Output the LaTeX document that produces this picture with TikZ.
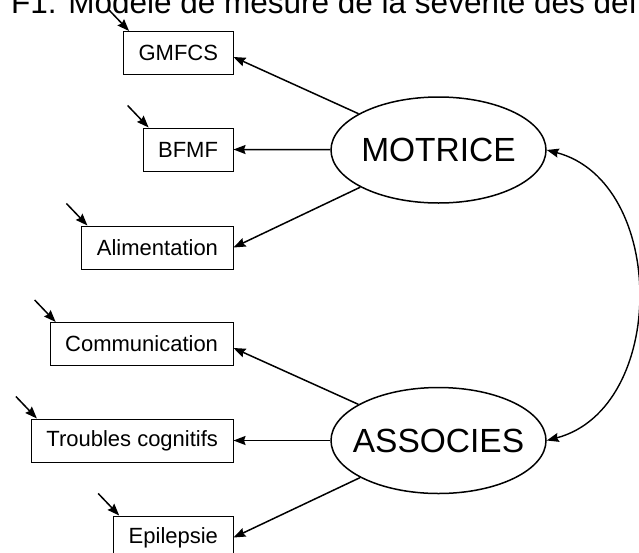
\documentclass[tikz,border=0pt]{standalone}
\usepackage{fontspec}
\setmainfont{Liberation Sans}
\usetikzlibrary{arrows.meta,calc,shapes.geometric}
\begin{document}
\begin{tikzpicture}[x=1pt,y=-1pt,
  obs/.style={draw, line width=1pt, inner xsep=15pt, inner ysep=0pt, minimum height=43pt, anchor=east, font=\fontsize{22}{26}\selectfont},
  lat/.style={draw, ellipse, line width=1.5pt, minimum width=215pt, minimum height=106pt, inner sep=0pt, font=\fontsize{33.5}{40}\selectfont},
  tip/.tip={Stealth[length=12pt,width=9pt,inset=1.5pt]},
  arr/.style={line width=1.5pt, -tip},
  dbl/.style={line width=1.4pt, tip-tip}
]
\useasboundingbox (0,0) rectangle (639,552);
\clip (0,0) rectangle (639,552);
\node[anchor=base west, inner sep=0pt, font=\fontsize{31.5}{36}\selectfont] (title) at (11,13) {F1. Modèle de mesure de la sévérité des déf};

\node[lat] (M) at (438.5,150) {\makebox[0pt]{MOTRICE}};
\node[lat] (A) at (438.5,440.5) {\makebox[0pt]{ASSOCIES}};

\node[obs] (G) at (233.5,53) {GMFCS};
\node[obs] (B) at (233.5,149.5) {BFMF};
\node[obs] (Al) at (233.5,247.5) {Alimentation};
\node[obs] (C) at (233.5,344) {Communication};
\node[obs] (T) at (233.5,440.5) {Troubles cognitifs};
\node[obs] (E) at (233.5,537.5) {Epilepsie};

\foreach \n in {G,B,Al,C,T,E}{
  \coordinate (e\n) at ($(\n.north west)+(-15,-22)$);
  \draw[arr] (e\n) -- ([xshift=6pt]\n.north west);
}

\draw[arr] (M) -- ([yshift=-4pt]G.east);
\draw[arr] (M) -- (B.east);
\draw[arr] (M) -- (Al.east);
\draw[arr] (A) -- ([yshift=-4pt]C.east);
\draw[arr] (A) -- (T.east);
\draw[arr] (A) -- (E.east);

\draw[dbl] (M.east) .. controls +(121,32) and +(121,-32) .. (A.east);
\end{tikzpicture}
\end{document}
